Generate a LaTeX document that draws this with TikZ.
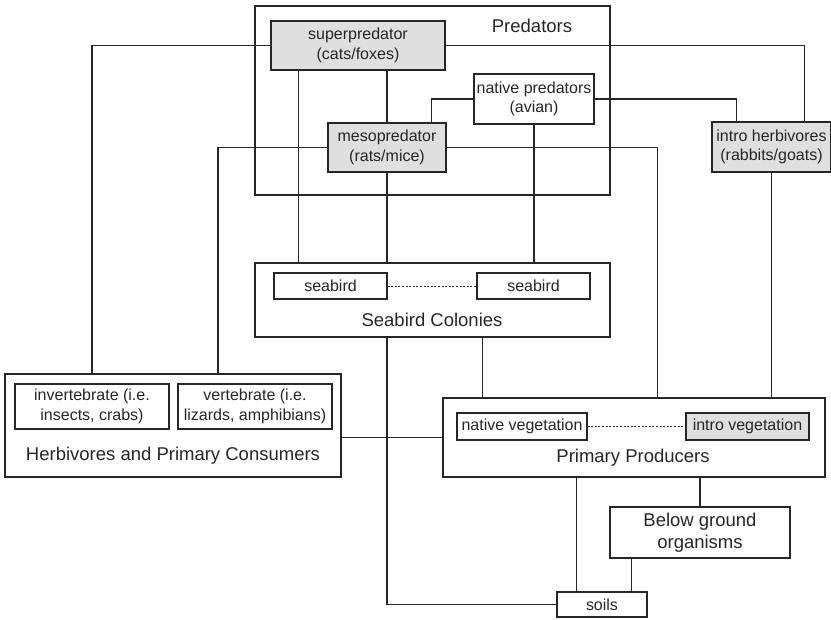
\documentclass[tikz,border=0pt]{standalone}
\usepackage{fontspec}
\setmainfont{Liberation Sans}
\usetikzlibrary{calc}

\begin{document}
\begin{tikzpicture}[x=1pt,y=-1pt,line width=1.2pt,color=black!85,
	group/.style={draw,inner sep=0pt},
	item/.style={draw,fill=white,inner sep=0pt,align=center,font=\fontsize{16}{19.5}\selectfont},
	intro/.style={item,fill=gray!25},
	title/.style={inner sep=0pt,align=center,font=\fontsize{18.5}{22}\selectfont},
	dotline/.style={dash pattern=on 2pt off 1.6pt,line width=0.9pt}]
	\useasboundingbox (0,0) rectangle (831,620);
\draw (432.5,100.5) node[group,minimum width=355,minimum height=189] (pred) {};
\draw (532,26) node[title] (predlabel) {Predators};
\draw (358,45.5) node[intro,minimum width=174,minimum height=49] (super) {superpredator\\(cats/foxes)};
\draw (534,99) node[item,minimum width=120,minimum height=50] (native) {native predators\\(avian)};
\draw (387,147.5) node[intro,minimum width=118,minimum height=49] (meso) {mesopredator\\(rats/mice)};
\draw (771.5,147) node[intro,minimum width=119,minimum height=50] (introherb) {intro herbivores\\(rabbits/goats)};
	\draw (432.5,300) node[group,minimum width=355,minimum height=74] (colony) {};
	\draw (330.5,286) node[item,minimum width=113,minimum height=26] (birdA) {seabird};
	\draw (533.5,286) node[item,minimum width=113,minimum height=26] (birdB) {seabird};
	\draw (432,320) node[title] (colonylabel) {Seabird Colonies};
	\draw (173,425.5) node[group,minimum width=336,minimum height=103] (herb) {};
	\draw (92,406.5) node[item,minimum width=154,minimum height=45] (invert) {invertebrate (i.e.\\insects, crabs)};
	\draw (255,406.5) node[item,minimum width=154,minimum height=45] (vert) {vertebrate (i.e.\\lizards, amphibians)};
	\draw (173,456) node[title] (herblabel) {Herbivores and Primary Consumers};
	\draw (634,437.5) node[group,minimum width=382,minimum height=79] (producers) {};
	\draw (522,426.5) node[item,minimum width=130,minimum height=27] (nativeveg) {native vegetation};
	\draw (747.5,426.5) node[intro,minimum width=123,minimum height=27] (introveg) {intro vegetation};
	\draw (633,458) node[title] (producerslabel) {Primary Producers};
	\draw (700,532.5) node[item,font=\fontsize{18.5}{22}\selectfont,minimum width=180,minimum height=51] (below) {Below ground\\organisms};
	\draw (602,604.5) node[item,minimum width=90,minimum height=25] (soils) {soils};
\draw (super.west) -| (invert.north |- herb.north);
\draw (meso.west) -| ($(vert.north |- herb.north)+(-37,0)$);
\draw (super.east) -| ($(introherb.north east)+(-27,0)$);
\draw (native.east) -| ($(introherb.north west)+(25,0)$);
\draw (native.west) -| ($(meso.north east)+(-15,0)$);
\draw ($(super.south west)+(28,0)$) coordinate (s1) -- (s1 |- colony.north);
\draw (meso.north |- super.south) -- (meso.north);
\draw (meso.south) -- (meso.south |- colony.north);
\draw (native.south) -- (native.south |- colony.north);
\draw (meso.east) -| ($(producers.north west)+(215,0)$);
\draw (introherb.south) -- (introherb.south |- producers.north);
	\draw ($(colony.south)+(50,0)$) coordinate (c1) -- (c1 |- producers.north);
	\draw (meso.south |- colony.south) |- (soils.west);
	\draw (herb.east |- producers.west) -- (producers.west);
	\draw ($(soils.north west)+(20,0)$) coordinate (p1) -- (p1 |- producers.south);
	\draw (below.north) -- (below.north |- producers.south);
	\draw ($(below.south west)+(22,0)$) coordinate (b1) -- (b1 |- soils.north);
	\draw[dotline] (birdA.east) -- (birdB.west);
	\draw[dotline] (nativeveg.east) -- (introveg.west);
	\end{tikzpicture}
\end{document}
